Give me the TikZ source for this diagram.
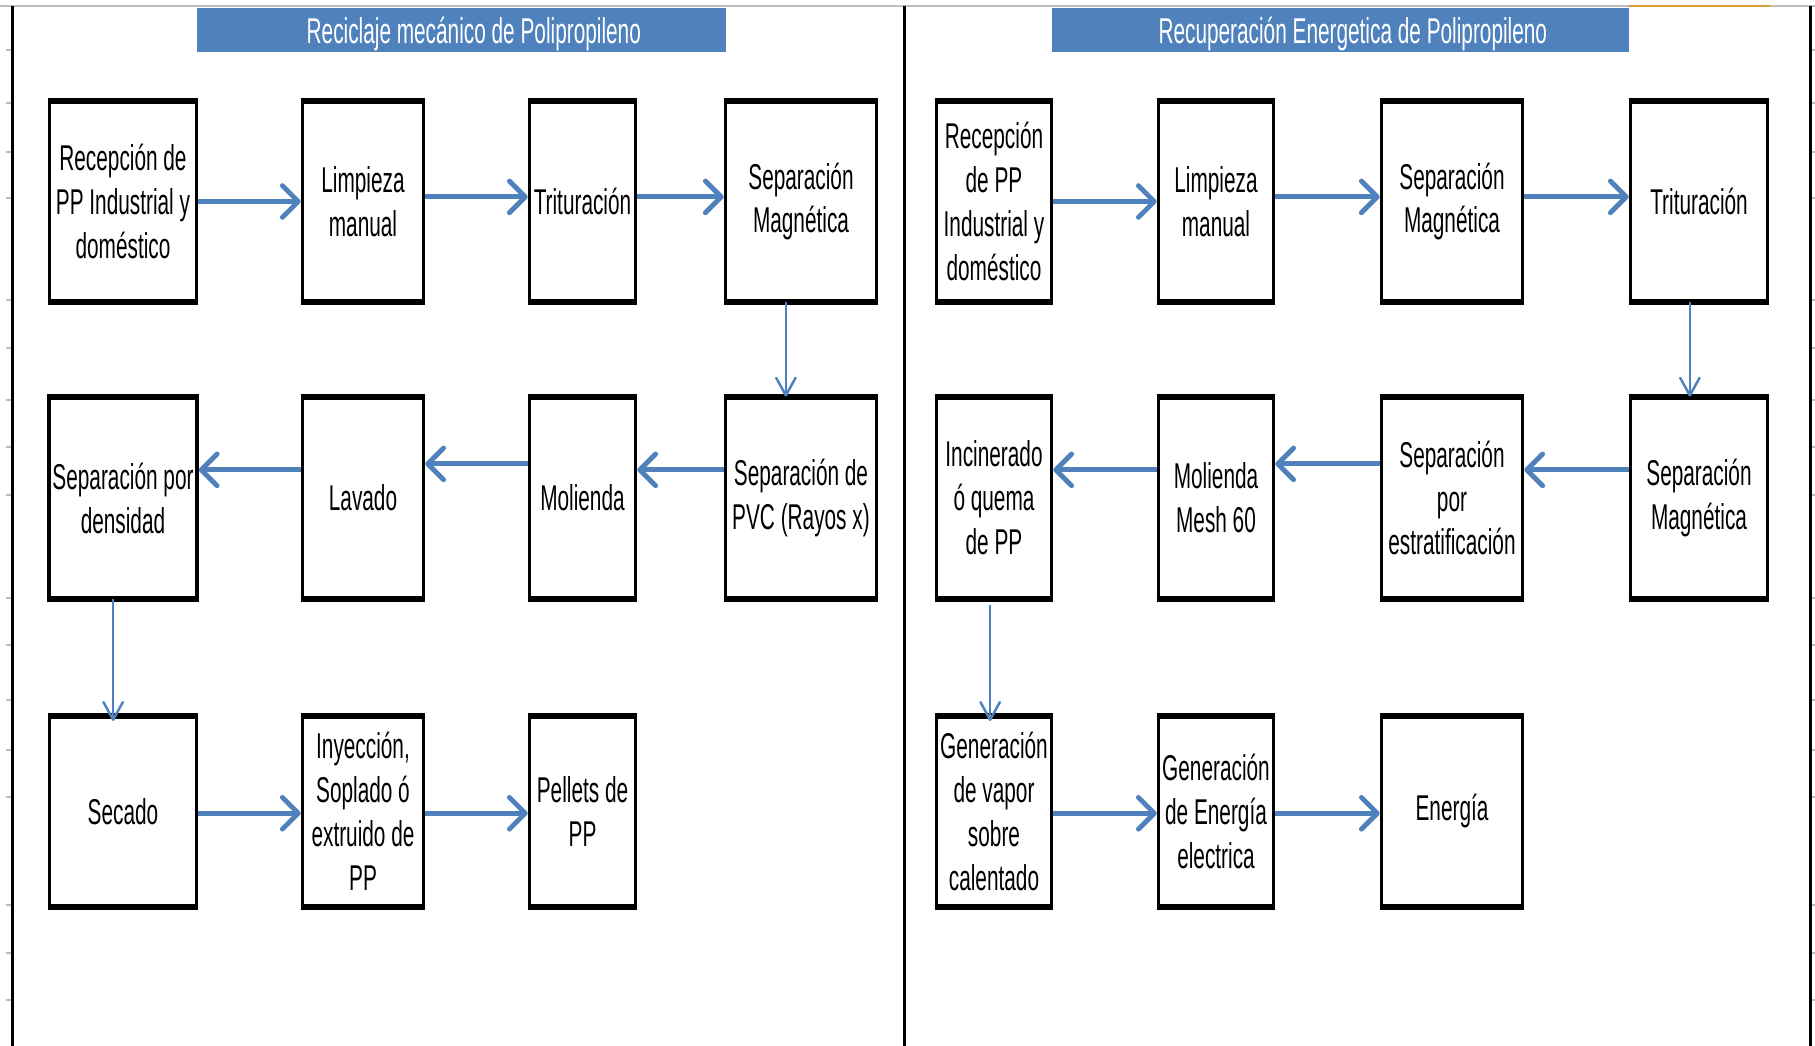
\documentclass[tikz,border=0pt]{standalone}
\usepackage{fontspec}
\usetikzlibrary{arrows.meta}
\newfontfamily\angosta{Liberation Sans}[FakeStretch=0.58]
\definecolor{azul}{RGB}{79,129,189}
\definecolor{naranja}{RGB}{221,154,58}
\definecolor{rejilla}{RGB}{190,190,190}
\tikzset{
  letra/.style={font=\angosta\fontsize{10.2}{12.5}\selectfont},
  paso/.style 2 args={draw,line width=1pt,fill=white,align=center,inner sep=1pt,letra,
    minimum width=#1cm,minimum height=#2cm},
  borde/.style={line width=1.8pt},
  titulo/.style={fill=azul,text=white,inner sep=0pt,letra,minimum height=0.44cm,text depth=0pt},
  flecha/.style={azul,line width=1.4pt,-{Straight Barb[length=4.5pt,width=9pt,round]}},
  bajada/.style={azul,line width=0.7pt,-{Straight Barb[length=5pt,width=5.5pt,round]}},
  marco/.style={line width=0.85pt},
}
\begin{document}
\begin{tikzpicture}[x=0.01cm,y=-0.01cm]
                \useasboundingbox (0,0) rectangle (1815,1046);
                \draw[rejilla,line width=0.6pt] (0,6) -- (1815,6);
                \draw[naranja,line width=0.8pt] (1629,6) -- (1770,6);
                \foreach \t in {50,103,152,198,300,348,400,447,495,598,645,700,750,797,905,953,1000}
                    \draw[rejilla,line width=0.4pt] (6,\t) -- (11,\t) (1812,\t) -- (1815,\t);
                \draw[marco] (12.5,6) -- (12.5,1046) (904.5,6) -- (904.5,1046) (1810.5,6) -- (1810.5,1046);
                \node[titulo,minimum width=5.29cm] (t1) at (461.5,30) {\hspace*{7pt}Reciclaje mecánico de Polipropileno};
                \node[titulo,minimum width=5.77cm] (t2) at (1340.5,30) {\hspace*{7pt}Recuperación Energetica de Polipropileno};
                \node[paso={1.47}{1.98}] (m1) at (123,201.5) {Recepción de\\PP Industrial y\\doméstico};
                \node[paso={1.21}{1.98}] (m2) at (363,201.5) {Limpieza\\manual};
                \node[paso={1.06}{1.98}] (m3) at (582.5,201.5) {Trituración};
                \node[paso={1.51}{1.98}] (m4) at (801,201.5) {Separación\\Magnética};
                \node[paso={1.51}{1.99}] (m5) at (801,498) {Separación de\\PVC (Rayos x)};
                \node[paso={1.06}{1.99}] (m6) at (582.5,498) {Molienda};
                \node[paso={1.21}{1.99}] (m7) at (363,498) {Lavado};
                \node[paso={1.47}{1.99}] (m8) at (123,498) {Separación por\\densidad};
                \node[paso={1.47}{1.88}] (m9) at (123,811.5) {Secado};
                \node[paso={1.21}{1.88}] (m10) at (363,811.5) {Inyección,\\Soplado ó\\extruido de\\PP};
                \node[paso={1.06}{1.88}] (m11) at (582.5,811.5) {Pellets de\\PP};
                \node[paso={1.15}{1.98}] (e1) at (994,201.5) {Recepción\\de PP\\Industrial y\\doméstico};
                \node[paso={1.15}{1.98}] (e2) at (1216,201.5) {Limpieza\\manual};
                \node[paso={1.41}{1.98}] (e3) at (1452,201.5) {Separación\\Magnética};
                \node[paso={1.37}{1.98}] (e4) at (1699,201.5) {Trituración};
                \node[paso={1.37}{1.99}] (e5) at (1699,498) {Separación\\Magnética};
                \node[paso={1.41}{1.99}] (e6) at (1452,498) {Separación\\por\\estratificación};
                \node[paso={1.15}{1.99}] (e7) at (1216,498) {Molienda\\Mesh 60};
                \node[paso={1.15}{1.99}] (e8) at (994,498) {Incinerado\\ó quema\\de PP};
                \node[paso={1.15}{1.88}] (e9) at (994,811.5) {Generación\\de vapor\\sobre\\calentado};
                \node[paso={1.15}{1.88}] (e10) at (1216,811.5) {Generación\\de Energía\\electrica};
                \node[paso={1.41}{1.88}] (e11) at (1452,811.5) {Energía};
                \foreach \n in {m1,m2,m3,m4,m5,m6,m7,m8,m9,m10,m11,e1,e2,e3,e4,e5,e6,e7,e8,e9,e10,e11}
                    \draw[borde] (\n.north west) -- (\n.north east) (\n.south west) -- (\n.south east);
                \draw[flecha] (m1) -- (m2);
                \draw[flecha] ([yshift=1.3pt]m2.east) -- ([yshift=1.3pt]m3.west);
                \draw[flecha] ([yshift=1.3pt]m3.east) -- ([yshift=1.3pt]m4.west);
                \draw[bajada] ([xshift=-4.3pt]m4.south) -- ([xshift=-4.3pt]m5.north);
                \draw[flecha] ([yshift=8pt]m5.west) -- ([yshift=8pt]m6.east);
                \draw[flecha] ([yshift=9.7pt]m6.west) -- ([yshift=9.7pt]m7.east);
                \draw[flecha] ([yshift=8pt]m7.west) -- ([yshift=8pt]m8.east);
                \draw[bajada] ([xshift=-2.8pt]m8.south) -- ([xshift=-2.8pt,yshift=-1.5pt]m9.north);
                \draw[flecha] ([yshift=-0.5pt]m9.east) -- ([yshift=-0.5pt]m10.west);
                \draw[flecha] ([yshift=-0.5pt]m10.east) -- ([yshift=-0.5pt]m11.west);
                \draw[flecha] (e1) -- (e2);
                \draw[flecha] ([yshift=1.3pt]e2.east) -- ([yshift=1.3pt]e3.west);
                \draw[flecha] ([yshift=1.3pt]e3.east) -- ([yshift=1.3pt]e4.west);
                \draw[bajada] ([xshift=-2.6pt]e4.south) -- ([xshift=-2.6pt]e5.north);
                \draw[flecha] ([yshift=8pt]e5.west) -- ([yshift=8pt]e6.east);
                \draw[flecha] ([yshift=9.7pt]e6.west) -- ([yshift=9.7pt]e7.east);
                \draw[flecha] ([yshift=8pt]e7.west) -- ([yshift=8pt]e8.east);
                \draw[bajada] ([xshift=-1.1pt,yshift=-1.5pt]e8.south) -- ([xshift=-1.1pt,yshift=-1.5pt]e9.north);
                \draw[flecha] ([yshift=-0.5pt]e9.east) -- ([yshift=-0.5pt]e10.west);
                \draw[flecha] ([yshift=-0.5pt]e10.east) -- ([yshift=-0.5pt]e11.west);
\end{tikzpicture}
\end{document}
